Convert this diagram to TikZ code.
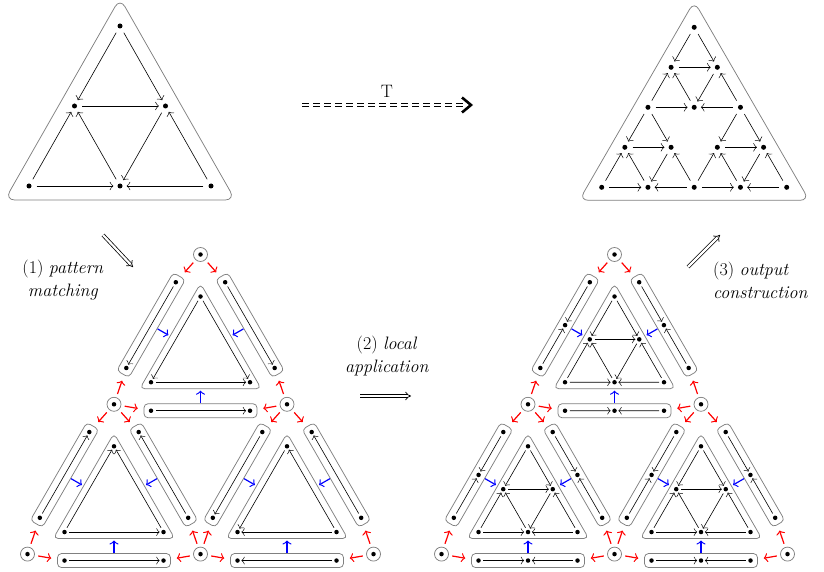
\documentclass[tikz,border=0pt]{standalone}
\usetikzlibrary{arrows.meta,calc}
\newcommand{\pat}[7]{%
  \draw[#7] (#1) -- (#2); \draw[#7] (#1) -- (#3); \draw[#7] (#2) -- (#3);
  \draw[#7] (#4) -- (#2); \draw[#7] (#5) -- (#2); \draw[#7] (#4) -- (#5);
  \draw[#7] (#3) -- (#5); \draw[#7] (#6) -- (#3); \draw[#7] (#6) -- (#5);}
\newcommand{\mkgroup}[6]{%
  \begin{scope}[shift={(#2,#3)}]
    \draw[blob,rounded corners=5pt] (0,134.24) -- (60.76,134.24) -- (0,29) -- (-60.76,134.24) -- cycle;
    \node[eblob,minimum width=113pt,rotate=60] (#1L) at (-49.43,70.62) {};
    \node[eblob,minimum width=113pt,rotate=-60] (#1R) at (49.43,70.62) {};
    \node[eblob,minimum width=113pt] (#1B) at (0,156.24) {};
    \node[dot] (#1a) at (0,42) {};
    \node[dot] (#1b) at (-49.5,127.74) {};
    \node[dot] (#1c) at (49.5,127.74) {};
    \node[dot] (#1Lt) at (-24.68,27.75) {};
    \node[dot] (#1Lb) at (-74.18,113.49) {};
    \node[dot] (#1Rt) at (24.68,27.75) {};
    \node[dot] (#1Rb) at (74.18,113.49) {};
    \node[dot] (#1Bl) at (-49.5,156.24) {};
    \node[dot] (#1Br) at (49.5,156.24) {};
    \coordinate (#1u1) at (-42.9,74.4); \coordinate (#1v1) at (-32.1,80.6);
    \coordinate (#1u2) at (42.9,74.4); \coordinate (#1v2) at (32.1,80.6);
    \coordinate (#1u3) at (0,148.7); \coordinate (#1v3) at (0,136.2);
  \end{scope}
  \draw[bluar] (#1u1) -- (#1v1); \draw[bluar] (#1u2) -- (#1v2); \draw[bluar] (#1u3) -- (#1v3);
  \draw[redar] (#4) -- (#1Lt); \draw[redar] (#4) -- (#1Rt);
  \draw[redar] (#5) -- (#1Lb); \draw[redar] (#5) -- (#1Bl);
  \draw[redar] (#6) -- (#1Rb); \draw[redar] (#6) -- (#1Br);}
\newcommand{\mids}[1]{%
  \node[dot] (#1Lm) at ($(#1Lt)!.5!(#1Lb)$) {};
  \node[dot] (#1Rm) at ($(#1Rt)!.5!(#1Rb)$) {};
  \node[dot] (#1Bm) at ($(#1Bl)!.5!(#1Br)$) {};
  \node[dot] (#1ab) at ($(#1a)!.5!(#1b)$) {};
  \node[dot] (#1ac) at ($(#1a)!.5!(#1c)$) {};
  \node[dot] (#1bc) at ($(#1b)!.5!(#1c)$) {};
  \pat{#1a}{#1ab}{#1ac}{#1b}{#1bc}{#1c}{ed}
  \draw[ed] (#1Lt) -- (#1Lm); \draw[ed] (#1Lb) -- (#1Lm);
  \draw[ed] (#1Rt) -- (#1Rm); \draw[ed] (#1Rb) -- (#1Rm);
  \draw[ed] (#1Bl) -- (#1Bm); \draw[ed] (#1Br) -- (#1Bm);}
\begin{document}
\begin{tikzpicture}[x=1pt,y=-1pt,
  dot/.style={circle,fill=black,inner sep=0pt,minimum size=4.5pt},
  ed/.style={line width=0.6pt,-{Classical TikZ Rightarrow[length=3.2pt,width=7.5pt]},shorten <=2.5pt,shorten >=1.5pt},
  edbig/.style={line width=0.6pt,-{Classical TikZ Rightarrow[length=3.6pt,width=8.5pt]},shorten <=5pt,shorten >=4pt},
  blob/.style={draw=black!50,line width=0.75pt},
  eblob/.style={blob,rectangle,rounded corners=4pt,minimum height=14pt,inner sep=0pt},
  vcirc/.style={circle,draw=black!50,line width=0.75pt,minimum size=14pt,inner sep=0pt,
    path picture={\fill (path picture bounding box.center) circle (2.25pt);}},
  redar/.style={red,line width=1.2pt,-{Classical TikZ Rightarrow[length=4pt,width=9pt]},shorten <=3.5pt,shorten >=11pt},
  bluar/.style={blue,line width=1.2pt,-{Classical TikZ Rightarrow[length=4pt,width=9pt]}},
  lbl/.style={font=\fontsize{18}{23}\selectfont,align=center,inner sep=0pt},
  impl/.style={double,double distance=2.2pt,line width=0.75pt,-{Implies}},
]
\useasboundingbox (0,0) rectangle (824,572);

% ---------- top left: input graph ----------
\draw[blob,rounded corners=10pt] (120,200) -- (235.2,200) -- (120,-2) -- (4.8,200) -- cycle;
\node[dot,minimum size=5pt] (t0) at (120,26) {};
\node[dot,minimum size=5pt] (t1) at (74.5,106) {};
\node[dot,minimum size=5pt] (t2) at (165.5,106) {};
\node[dot,minimum size=5pt] (t3) at (29,186) {};
\node[dot,minimum size=5pt] (t4) at (120,186) {};
\node[dot,minimum size=5pt] (t5) at (211,186) {};
\pat{t0}{t1}{t2}{t3}{t4}{t5}{edbig}

% ---------- top right: output graph ----------
\draw[blob,rounded corners=9pt] (694.2,200.3) -- (809.2,200.3) -- (694.2,1.3) -- (579.2,200.3) -- cycle;
\foreach \k in {0,...,4}{
  \foreach \j in {0,...,\k}{
    \node[dot,minimum size=5pt] (o\k\j) at ({694.2+(\j-\k/2)*46.25},{27.3+40*\k}) {};
  }
}
\pat{o00}{o10}{o11}{o20}{o21}{o22}{edbig}
\pat{o20}{o30}{o31}{o40}{o41}{o42}{edbig}
\pat{o22}{o32}{o33}{o42}{o43}{o44}{edbig}

% ---------- T arrow ----------
\coordinate (T1) at (302,105);
\coordinate (T2) at (471,105);
\draw[line width=1.1pt,double,double distance=1.8pt,dash pattern=on 6.5pt off 4.5pt,shorten >=5pt] (T1) -- (T2);
\draw[line width=2.6pt,line join=miter] ($(T2)+(-9,-7.5)$) -- (T2) -- ($(T2)+(-9,7.5)$);
\node[lbl] (Tl) at (387,91) {T};

% ---------- step arrows and labels ----------
\coordinate (s1a) at (103,235); \coordinate (s1b) at (133,267);
\draw[impl] (s1a) -- (s1b);
\node[lbl] (l1) at (63,280) {(1) \textit{pattern}\\\textit{matching}};
\coordinate (s2a) at (360,396); \coordinate (s2b) at (411,396);
\draw[impl] (s2a) -- (s2b);
\node[lbl] (l2) at (387,356) {(2) \textit{local}\\\textit{application}};
\coordinate (s3a) at (688,267); \coordinate (s3b) at (720,235);
\draw[impl] (s3a) -- (s3b);
\node[lbl,align=left,anchor=west] (l3) at (713,280) {(3) \textit{output}\\\textit{construction}};

% ---------- vertex circles ----------
\node[vcirc] (LA) at (200.5,254.5) {};
\node[vcirc] (LB) at (114,404.3) {};
\node[vcirc] (LC) at (287,404.3) {};
\node[vcirc] (LD) at (27.5,554.1) {};
\node[vcirc] (LE) at (200.5,554.1) {};
\node[vcirc] (LF) at (373.5,554.1) {};
\node[vcirc] (RA) at (614.5,254.5) {};
\node[vcirc] (RB) at (528,404.3) {};
\node[vcirc] (RC) at (701,404.3) {};
\node[vcirc] (RD) at (441.5,554.1) {};
\node[vcirc] (RE) at (614.5,554.1) {};
\node[vcirc] (RF) at (787.5,554.1) {};

% ---------- left structure (pattern matching) ----------
\mkgroup{LT}{200.5}{254.5}{LA}{LB}{LC}
\mkgroup{LL}{114}{404.3}{LB}{LD}{LE}
\mkgroup{LR}{287}{404.3}{LC}{LE}{LF}
\draw[ed] (LTa) -- (LTb); \draw[ed] (LTa) -- (LTc); \draw[ed] (LTb) -- (LTc);
\draw[ed] (LTLt) -- (LTLb); \draw[ed] (LTRt) -- (LTRb); \draw[ed] (LTBl) -- (LTBr);
\draw[ed] (LLb) -- (LLa); \draw[ed] (LLc) -- (LLa); \draw[ed] (LLb) -- (LLc);
\draw[ed] (LLLb) -- (LLLt); \draw[ed] (LLRb) -- (LLRt); \draw[ed] (LLBl) -- (LLBr);
\draw[ed] (LRc) -- (LRa); \draw[ed] (LRa) -- (LRb); \draw[ed] (LRc) -- (LRb);
\draw[ed] (LRLt) -- (LRLb); \draw[ed] (LRRb) -- (LRRt); \draw[ed] (LRBr) -- (LRBl);

% ---------- right structure (local application) ----------
\mkgroup{RT}{614.5}{254.5}{RA}{RB}{RC}
\mkgroup{RL}{528}{404.3}{RB}{RD}{RE}
\mkgroup{RR}{701}{404.3}{RC}{RE}{RF}
\mids{RT}
\mids{RL}
\mids{RR}
\end{tikzpicture}
\end{document}
